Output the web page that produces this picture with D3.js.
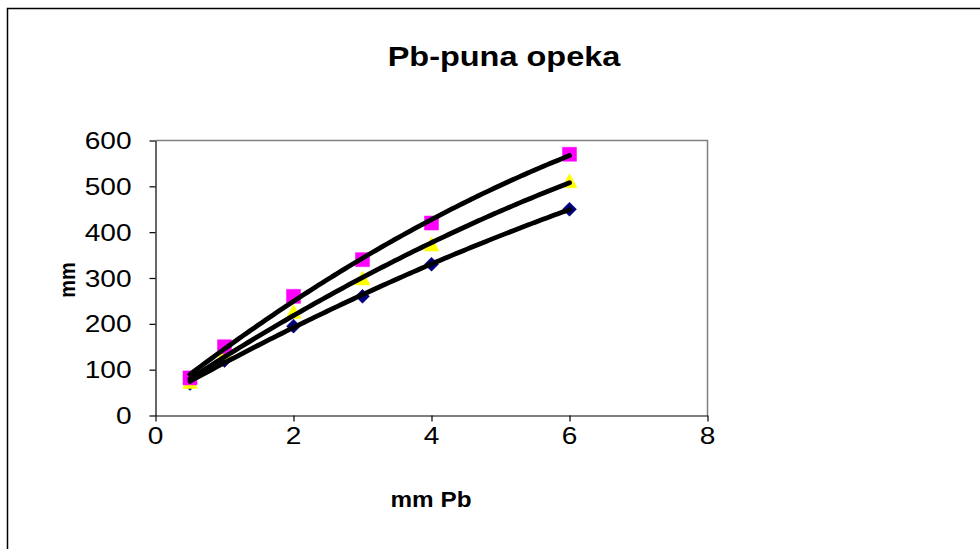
<!DOCTYPE html>
<html>
<head>
<meta charset="utf-8">
<script src="https://cdn.jsdelivr.net/npm/d3@7"></script>
<style>
  html, body { margin: 0; padding: 0; background: #fff; }
  svg { display: block; font-family: "Liberation Sans", Arial, sans-serif; }
</style>
</head>
<body>
<svg id="chart" width="980" height="549"></svg>
<script>
// Thickness of lead (mm Pb) and equivalent brick thickness (mm)
const thicknessPb = [0.5, 1, 2, 3, 4, 6];
const seriesDiamond = [70, 120, 195, 260, 330, 450];
const seriesSquare = [82, 150, 260, 340, 420, 570];
const seriesTriangle = [72, 135, 225, 298, 372, 510];
const xTicks = [0, 2, 4, 6, 8];
const yTicks = [0, 100, 200, 300, 400, 500, 600];

const svg = d3.select("#chart");
const FONT = "'Liberation Sans', Arial, sans-serif";

// outer chart frame (runs off the right and bottom edges)
svg.append("rect")
  .attr("x", 7.5).attr("y", 8.5)
  .attr("width", 1000).attr("height", 600)
  .attr("fill", "#fff").attr("stroke", "#000").attr("stroke-width", 1.5);

const plot = { left: 155.5, right: 707.5, top: 140.5, bottom: 415.5 };

const x = d3.scaleLinear().domain([0, 8]).range([plot.left, plot.right]);
const y = d3.scaleLinear().domain([0, 600]).range([plot.bottom, plot.top]);

// plot area border: grey top and right
svg.append("path")
  .attr("d", `M${plot.left},${plot.top}H${plot.right}V${plot.bottom}`)
  .attr("fill", "none").attr("stroke", "#808080").attr("stroke-width", 1.5);

// axes (lines and ticks); labels are drawn separately below
const xAxis = svg.append("g")
  .attr("transform", `translate(0,${plot.bottom})`)
  .call(d3.axisBottom(x).tickValues(xTicks).tickSize(6).tickSizeOuter(0).tickFormat(""));
const yAxis = svg.append("g")
  .attr("transform", `translate(${plot.left},0)`)
  .call(d3.axisLeft(y).tickValues(yTicks).tickSize(6).tickSizeOuter(0).tickFormat(""));

[xAxis, yAxis].forEach(g => {
  g.select(".domain").attr("stroke", "#000").attr("stroke-width", 1.2);
  g.selectAll(".tick line").attr("stroke", "#000").attr("stroke-width", 1.2);
});

function label(tx, ty, text, opts) {
  const o = Object.assign({ size: 21, sx: 1.15, weight: "normal", anchor: "middle", rotate: 0 }, opts);
  return svg.append("text")
    .attr("transform", `translate(${tx},${ty}) scale(${o.sx},1)` + (o.rotate ? ` rotate(${o.rotate})` : ""))
    .attr("text-anchor", o.anchor)
    .style("font-family", FONT)
    .style("font-size", o.size + "px")
    .style("font-weight", o.weight)
    .attr("fill", "#000")
    .text(text);
}

// tick labels
xTicks.forEach(v => label(x(v), 444, d3.format("d")(v), { size: 24, sx: 1.17 }));
yTicks.forEach(v => label(plot.left - 24, y(v) + 8.5, d3.format("d")(v), { size: 24, sx: 1.17, anchor: "end" }));

// quadratic trendline fitted by least squares
function polyFit2(xs, ys) {
  // normal equations for y = c0 + c1 x + c2 x^2
  const S = k => d3.sum(xs, v => Math.pow(v, k));
  const T = k => d3.sum(xs.map((v, i) => ys[i] * Math.pow(v, k)));
  const A = [[S(0), S(1), S(2)], [S(1), S(2), S(3)], [S(2), S(3), S(4)]];
  const B = [T(0), T(1), T(2)];
  // Gaussian elimination
  for (let i = 0; i < 3; i++) {
    for (let j = i + 1; j < 3; j++) {
      const f = A[j][i] / A[i][i];
      for (let k = i; k < 3; k++) A[j][k] -= f * A[i][k];
      B[j] -= f * B[i];
    }
  }
  const c = [0, 0, 0];
  for (let i = 2; i >= 0; i--) {
    let s = B[i];
    for (let k = i + 1; k < 3; k++) s -= A[i][k] * c[k];
    c[i] = s / A[i][i];
  }
  return t => c[0] + c[1] * t + c[2] * t * t;
}

const series = [
  { values: seriesDiamond, shape: "diamond", color: "#000080" },
  { values: seriesTriangle, shape: "triangle", color: "#ffff00" },
  { values: seriesSquare, shape: "square", color: "#ff00ff" }
];

// markers
const markers = svg.append("g");
series.forEach(s => {
  s.values.forEach((v, i) => {
    const cx = x(thicknessPb[i]), cy = y(v);
    let d;
    if (s.shape === "square") {
      d = `M${cx - 7},${cy - 7}h14v14h-14z`;
    } else if (s.shape === "triangle") {
      d = `M${cx},${cy - 8}L${cx + 7.5},${cy + 6}L${cx - 7.5},${cy + 6}z`;
    } else {
      d = `M${cx},${cy - 7}L${cx + 7},${cy}L${cx},${cy + 7}L${cx - 7},${cy}z`;
    }
    markers.append("path").attr("d", d).attr("fill", s.color)
      .attr("stroke", s.color).attr("stroke-width", 0.5);
  });
});

// trendlines
const line = d3.line().x(d => x(d[0])).y(d => y(d[1]));
series.forEach(s => {
  const f = polyFit2(thicknessPb, s.values);
  const pts = d3.range(0, 101).map(k => {
    const t = 0.5 + (6 - 0.5) * k / 100;
    return [t, f(t)];
  });
  svg.append("path").attr("d", line(pts))
    .attr("fill", "none").attr("stroke", "#000")
    .attr("stroke-width", 4.8).attr("stroke-linecap", "round");
});

// title and axis titles
label(504, 66, "Pb-puna opeka", { size: 28, sx: 1.16, weight: "bold" });
label(431, 507, "mm Pb", { size: 21.5, sx: 1.13, weight: "bold" });
label(75, 280, "mm", { size: 20, sx: 1.12, weight: "bold", rotate: -90 });
</script>
</body>
</html>
